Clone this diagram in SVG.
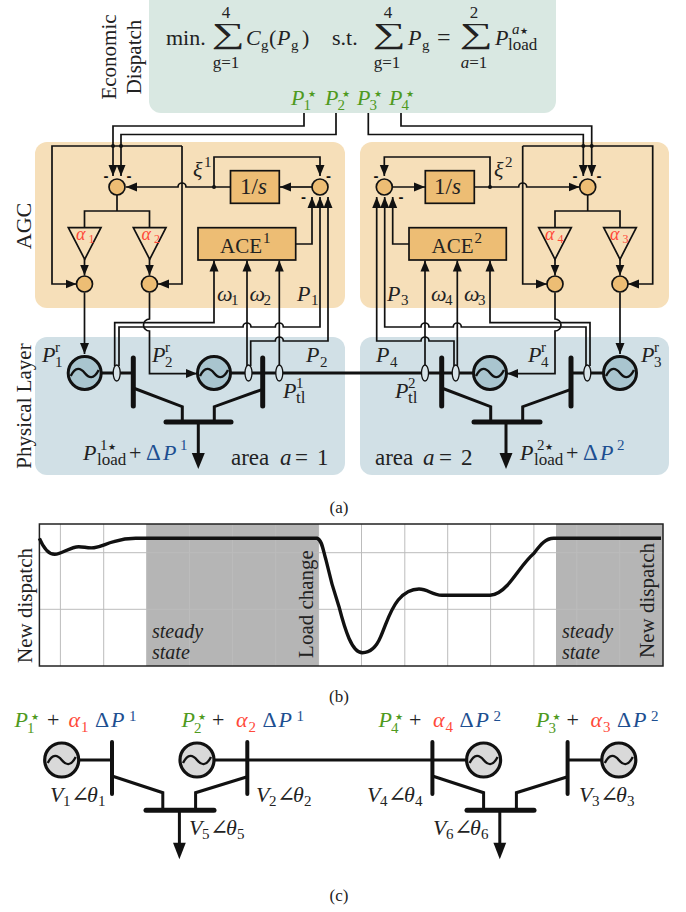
<svg xmlns="http://www.w3.org/2000/svg" width="686" height="912" viewBox="0 0 686 912">
<style>
text{font-family:"Liberation Serif","DejaVu Serif",serif;fill:#222;font-size:22px}
.n{font-size:21px}
.ar{font-size:23px}
.i{font-style:italic}
.s{font-size:15px}
.ld{font-size:17px}
.lim{font-size:17px;text-anchor:middle}
.t{font-size:12px}
.al{font-size:18px}
.st{font-size:9px;font-family:"DejaVu Sans",sans-serif}
.g,.g tspan{fill:#4f9a1e}
.r,.r tspan{fill:#ff4a3a}
.bl,.bl tspan{fill:#1d4f91}
.mn{font-family:"Liberation Sans",sans-serif;font-size:15px;font-weight:bold;text-anchor:middle;fill:#111}
.cap{font-size:17px;text-anchor:middle}
.sg{font-size:29px}
.ctr{text-anchor:middle}
.l{fill:none;stroke:#111;stroke-width:1.7}
.la{fill:none;stroke:#111;stroke-width:1.7;marker-end:url(#a)}
.h{fill:none;stroke:#111;stroke-width:3}
.bus{fill:none;stroke:#111;stroke-width:5;stroke-linecap:round}
.cb{fill:none;stroke:#111;stroke-width:4;stroke-linecap:round}
.sum{fill:#edbd74;stroke:#111;stroke-width:1.7}
.bx{fill:#edbd74;stroke:#111;stroke-width:1.7}
.tri{fill:#f6dfb9;stroke:#111;stroke-width:1.7}
.ov{fill:#d9e5ea;stroke:#111;stroke-width:1.3}
.gen{fill:#a9c5cf;stroke:#111;stroke-width:3}
.gen2{fill:#d9d9d9;stroke:#111;stroke-width:3.2}
.w{fill:none;stroke:#111;stroke-width:2.4}
.grid{stroke:#bcbcbc;stroke-width:1;fill:none}
.dot{fill:#111}
</style>
<defs>
<marker id="a" markerUnits="userSpaceOnUse" markerWidth="12" markerHeight="10" refX="11" refY="5" orient="auto"><path d="M0 0.500L11 5L0 9.500z" fill="#111"/></marker>
<path id="wave" class="w" d="M-14 3C-9 -7 -4 -5 0 0S9 7 14 -3"/>
</defs>

<g id="panels">
<rect x="149" y="-12" width="407" height="125" rx="12" fill="#d9e8e2"/>
<rect x="35" y="142" width="310" height="166" rx="12" fill="#f6dfb9"/>
<rect x="360" y="142" width="309" height="166" rx="12" fill="#f6dfb9"/>
<rect x="35" y="337" width="310" height="138" rx="12" fill="#d1e0e6"/>
<rect x="360" y="337" width="309" height="138" rx="12" fill="#d1e0e6"/>
</g>

<g id="connectors">
<path class="la" d="M304 113V126H113V176"/>
<path class="la" d="M336 113V134.500H121V176"/>
<path class="la" d="M368.300 113V134.500H583.300V176"/>
<path class="la" d="M401 113V126H591.700V176"/>
<path class="la" d="M182 146H52V284H76.500"/>
<path class="la" d="M182 146V284H158"/>
<path class="la" d="M522.700 146H652.700V284H628"/>
<path class="la" d="M522.700 146V284H547"/>
<path class="la" d="M230.500 187H186A4 4 0 0 0 178 187H126"/>
<path class="la" d="M312 187H280"/>
<path class="la" d="M214 187V157H320V176"/>
<path class="la" d="M392.500 187H425"/>
<path class="la" d="M474.500 187H518.700A4 4 0 0 1 526.700 187H579.500"/>
<path class="la" d="M490 187V157H384.300V176"/>
<path class="l" d="M117 195V211M84.500 227.700V211H149.500V227.700"/>
<path class="l" d="M587.700 195V211M555 227.700V211H620V227.700"/>
<path class="la" d="M84.500 259V275.500"/>
<path class="la" d="M149.500 259V275.500"/>
<path class="la" d="M555 259V275.500"/>
<path class="la" d="M620 259V275.500"/>
<path class="la" d="M84.500 292.500V354"/>
<path class="la" d="M149.500 292.500V319A6 6 0 0 0 149.500 331V373.600H197"/>
<path class="la" d="M620 292.500V354"/>
<path class="la" d="M555 292.500V319A6 6 0 0 1 555 331V373.600H507"/>
<path class="la" d="M295.700 244H312V197"/>
<path class="la" d="M409 244H392.700V197"/>
<path class="la" d="M114.700 366V322.700H214V260.500"/>
<path class="la" d="M119 366V327H243A4 4 0 0 1 251 327H275.300A4 4 0 0 1 283.300 327H320V197"/>
<path class="la" d="M247 366V260.500"/>
<path class="la" d="M279.300 366V260.500"/>
<path class="la" d="M250.700 366V341H275.300A4 4 0 0 1 283.300 341H328V197"/>
<path class="la" d="M425 366V260.500"/>
<path class="la" d="M457.300 366V260.500"/>
<path class="la" d="M590 366V322.700H490V260.500"/>
<path class="la" d="M586 366V327H461.300A4 4 0 0 0 453.300 327H429A4 4 0 0 0 421 327H384.700V197"/>
<path class="la" d="M454 366V341H429A4 4 0 0 0 421 341H376.700V197"/>
<path class="h" d="M84.700 373H133.300M214 373H490M571 373H620"/>
<path class="h" d="M133.300 388L182.300 406.700V422M262.700 389.300L214.300 406.700V422"/>
<path class="h" d="M441.700 388L490.700 406.700V422M571 389.300L522.700 406.700V422"/>
<path class="h" d="M198.300 422V455"/>
<path d="M191.800 453H204.800L198.300 469z" fill="#111"/>
<path class="h" d="M506 422V455"/>
<path d="M499.500 453H512.500L506 469z" fill="#111"/>
<path class="h" d="M61.700 760H112M197 760H483.600M567.600 760H618.800"/>
<path class="h" d="M112 776L162.800 792.700V810M247.300 776.700L195.600 792.700V810M432.400 776L483.600 792.700V810M567.600 776.700L516.400 792.700V810"/>
<path class="h" d="M179.400 810V845"/>
<path d="M173 842.700H185.800L179.400 859.300z" fill="#111"/>
<path class="h" d="M499.800 810V845"/>
<path d="M493.400 842.700H506.200L499.800 859.300z" fill="#111"/>
</g>

<g id="dots">
<circle class="dot" cx="113" cy="146" r="2"/><circle class="dot" cx="121" cy="146" r="2"/>
<circle class="dot" cx="214" cy="187" r="2"/><circle class="dot" cx="490" cy="187" r="2"/>
<circle class="dot" cx="583.300" cy="146" r="2"/><circle class="dot" cx="591.700" cy="146" r="2"/>
</g>

<g id="sum1"><circle class="sum" cx="117" cy="187" r="8"/></g>
<g id="sum2"><circle class="sum" cx="320" cy="187" r="8"/></g>
<g id="sum3"><circle class="sum" cx="84.500" cy="284" r="8"/></g>
<g id="sum4"><circle class="sum" cx="149.500" cy="284" r="8"/></g>
<g id="sum5"><circle class="sum" cx="384.300" cy="187" r="8"/></g>
<g id="sum6"><circle class="sum" cx="587.700" cy="187" r="8"/></g>
<g id="sum7"><circle class="sum" cx="555" cy="284" r="8"/></g>
<g id="sum8"><circle class="sum" cx="620" cy="284" r="8"/></g>

<g id="minus">
<text class="mn" x="106" y="181">-</text><text class="mn" x="129" y="181">-</text>
<text class="mn" x="328.500" y="181">-</text><text class="mn" x="303.500" y="202">-</text>
<text class="mn" x="376" y="181">-</text><text class="mn" x="401" y="202">-</text>
<text class="mn" x="575" y="181">-</text><text class="mn" x="599" y="181">-</text>
</g>

<g id="gain1"><path class="tri" d="M68.300 227.700H101L84.700 259.300z"/><text class="r al"><tspan class="i" x="76" y="240">α</tspan><tspan class="t" x="88.500" y="243">1</tspan></text></g>
<g id="gain2"><path class="tri" d="M133.300 227.700H166L149.700 259.300z"/><text class="r al"><tspan class="i" x="141.500" y="240">α</tspan><tspan class="t" x="154" y="243">2</tspan></text></g>
<g id="gain4"><path class="tri" d="M538.700 227.700H571.300L555 259.300z"/><text class="r al"><tspan class="i" x="545" y="240">α</tspan><tspan class="t" x="557.500" y="243">4</tspan></text></g>
<g id="gain3"><path class="tri" d="M603.700 227.700H636.300L620 259.300z"/><text class="r al"><tspan class="i" x="610" y="240">α</tspan><tspan class="t" x="622.500" y="243">3</tspan></text></g>

<g id="int1"><rect class="bx" x="230.500" y="170.700" width="48.800" height="32.600"/><text x="240" y="194" style="font-size:23px">1/<tspan class="i">s</tspan></text></g>
<g id="int2"><rect class="bx" x="425.300" y="170.700" width="49" height="32.600"/><text x="434" y="194" style="font-size:23px">1/<tspan class="i">s</tspan></text></g>
<g id="ace1"><rect class="bx" x="198" y="227.700" width="97.700" height="32.300"/><text x="220" y="253" class="n">ACE<tspan class="s" x="263" y="243">1</tspan></text></g>
<g id="ace2"><rect class="bx" x="409" y="227.700" width="97.300" height="32.300"/><text x="431.500" y="253" class="n">ACE<tspan class="s" x="474.500" y="243">2</tspan></text></g>

<g id="sensors">
<ellipse class="ov" cx="116.700" cy="373" rx="3.500" ry="8"/>
<ellipse class="ov" cx="248.500" cy="373" rx="3.500" ry="8"/>
<ellipse class="ov" cx="279.300" cy="373" rx="3.500" ry="8"/>
<ellipse class="ov" cx="425" cy="373" rx="3.500" ry="8"/>
<ellipse class="ov" cx="455.700" cy="373" rx="3.500" ry="8"/>
<ellipse class="ov" cx="587.300" cy="373" rx="3.500" ry="8"/>
</g>

<g id="gen1"><circle class="gen" cx="84.700" cy="373" r="16.500"/><use href="#wave" x="84.700" y="373"/></g>
<g id="gen2"><circle class="gen" cx="214" cy="373" r="16.500"/><use href="#wave" x="214" y="373"/></g>
<g id="gen4"><circle class="gen" cx="490" cy="373" r="16.500"/><use href="#wave" x="490" y="373"/></g>
<g id="gen3"><circle class="gen" cx="620" cy="373" r="16.500"/><use href="#wave" x="620" y="373"/></g>
<g id="bus1"><path class="bus" d="M133.300 358V406"/></g>
<g id="bus2"><path class="bus" d="M262.700 358V406"/></g>
<g id="bus3"><path class="bus" d="M441.700 358V406"/></g>
<g id="bus4"><path class="bus" d="M571 358V406"/></g>
<g id="bus5"><path class="bus" d="M166 422H231"/></g>
<g id="bus6"><path class="bus" d="M474 422H540"/></g>

<g id="labels-a">
<text class="ctr n" transform="translate(116 57) rotate(-90)">Economic</text>
<text class="ctr n" transform="translate(141 57) rotate(-90)">Dispatch</text>
<text class="ctr" transform="translate(31 226) rotate(-90)">AGC</text>
<text class="ctr n" transform="translate(31 406) rotate(-90)">Physical Layer</text>

<text x="166" y="45">min.</text>
<text class="sg" transform="translate(212 43) scale(1.600 1)">∑</text>
<text class="lim" x="226" y="18">4</text><text class="lim" x="226" y="68">g=1</text>
<text><tspan class="i" x="246" y="45">C</tspan><tspan class="s" x="261" y="50">g</tspan><tspan x="269" y="45">(</tspan><tspan class="i" x="277" y="45">P</tspan><tspan class="s" x="291" y="50">g</tspan><tspan x="302" y="45">)</tspan></text>
<text x="332" y="45">s.t.</text>
<text class="sg" transform="translate(373 43) scale(1.600 1)">∑</text>
<text class="lim" x="388" y="18">4</text><text class="lim" x="387" y="68">g=1</text>
<text><tspan class="i" x="408" y="45">P</tspan><tspan class="s" x="422" y="50">g</tspan><tspan x="437" y="45" style="font-size:24px">=</tspan></text>
<text class="sg" transform="translate(460 43) scale(1.600 1)">∑</text>
<text class="lim" x="474" y="18">2</text><text class="lim" x="474" y="68"><tspan class="i">a</tspan>=1</text>
<text><tspan class="i" x="495" y="45">P</tspan><tspan class="s i" x="512" y="34">a</tspan><tspan class="st" x="520" y="34">★</tspan><tspan class="ld" x="508" y="50">load</tspan></text>

<text class="g"><tspan class="i" x="291" y="105">P</tspan><tspan class="s" x="303.500" y="110">1</tspan><tspan class="st" x="308" y="97">★</tspan></text>
<text class="g"><tspan class="i" x="325" y="105">P</tspan><tspan class="s" x="337.500" y="110">2</tspan><tspan class="st" x="342" y="97">★</tspan></text>
<text class="g"><tspan class="i" x="357" y="105">P</tspan><tspan class="s" x="369.500" y="110">3</tspan><tspan class="st" x="374" y="97">★</tspan></text>
<text class="g"><tspan class="i" x="389" y="105">P</tspan><tspan class="s" x="401.500" y="110">4</tspan><tspan class="st" x="406" y="97">★</tspan></text>

<text><tspan class="i" x="193" y="177">ξ</tspan><tspan class="s" x="204" y="167">1</tspan></text>
<text><tspan class="i" x="494" y="177">ξ</tspan><tspan class="s" x="505" y="167">2</tspan></text>
<text><tspan class="i" x="217" y="301">ω</tspan><tspan class="s" x="231" y="305">1</tspan></text>
<text><tspan class="i" x="249.500" y="301">ω</tspan><tspan class="s" x="263.500" y="305">2</tspan></text>
<text><tspan class="i" x="297" y="301">P</tspan><tspan class="s" x="311" y="305">1</tspan></text>
<text><tspan class="i" x="387" y="301">P</tspan><tspan class="s" x="401" y="305">3</tspan></text>
<text><tspan class="i" x="431" y="301">ω</tspan><tspan class="s" x="445" y="305">4</tspan></text>
<text><tspan class="i" x="464" y="301">ω</tspan><tspan class="s" x="478" y="305">3</tspan></text>

<text><tspan class="i" x="42" y="362">P</tspan><tspan class="s" x="55" y="352">r</tspan><tspan class="s" x="55" y="367">1</tspan></text>
<text><tspan class="i" x="152" y="362">P</tspan><tspan class="s" x="165" y="352">r</tspan><tspan class="s" x="165" y="367">2</tspan></text>
<text><tspan class="i" x="306" y="362">P</tspan><tspan class="s" x="320" y="367">2</tspan></text>
<text><tspan class="i" x="376" y="362">P</tspan><tspan class="s" x="390" y="367">4</tspan></text>
<text><tspan class="i" x="528" y="362">P</tspan><tspan class="s" x="541" y="352">r</tspan><tspan class="s" x="541" y="367">4</tspan></text>
<text><tspan class="i" x="641" y="362">P</tspan><tspan class="s" x="654" y="352">r</tspan><tspan class="s" x="654" y="367">3</tspan></text>
<text><tspan class="i" x="283" y="398">P</tspan><tspan class="s" x="296" y="388">1</tspan><tspan class="ld" x="296" y="403">tl</tspan></text>
<text><tspan class="i" x="395" y="398">P</tspan><tspan class="s" x="408" y="388">2</tspan><tspan class="ld" x="408" y="403">tl</tspan></text>
<text><tspan class="i" x="83" y="460">P</tspan><tspan class="s" x="100" y="450">1</tspan><tspan class="st" x="108" y="450">★</tspan><tspan class="ld" x="97" y="465">load</tspan><tspan x="129" y="460">+</tspan></text>
<text class="bl"><tspan x="146" y="460" style="font-size:23px">Δ</tspan><tspan class="i" x="163" y="460">P</tspan><tspan class="s" x="180" y="450">1</tspan></text>
<text class="ar"><tspan x="231" y="465">area</tspan><tspan class="i" x="280" y="465">a</tspan><tspan x="295" y="465">=</tspan><tspan x="317" y="465">1</tspan></text>
<text><tspan class="i" x="520" y="460">P</tspan><tspan class="s" x="537" y="450">2</tspan><tspan class="st" x="545" y="450">★</tspan><tspan class="ld" x="534" y="465">load</tspan><tspan x="566" y="460">+</tspan></text>
<text class="bl"><tspan x="583" y="460" style="font-size:23px">Δ</tspan><tspan class="i" x="600" y="460">P</tspan><tspan class="s" x="617" y="450">2</tspan></text>
<text class="ar"><tspan x="375" y="465">area</tspan><tspan class="i" x="423" y="465">a</tspan><tspan x="439" y="465">=</tspan><tspan x="461" y="465">2</tspan></text>
<text class="cap" x="339" y="513">(a)</text>
</g>

<g id="plot">
<rect x="147" y="524" width="172" height="142" fill="#b5b5b5"/>
<rect x="556" y="524" width="107" height="142" fill="#b5b5b5"/>
<path class="grid" d="M60.400 524V666M103.700 524V666M146.600 524V666M189.500 524V666M232.400 524V666M275.700 524V666M318.600 524V666M361.500 524V666M404.800 524V666M447.700 524V666M490.600 524V666M533.900 524V666M576.800 524V666M619.700 524V666M39.400 552.700H663M39.400 609.300H663"/>
<rect x="39.400" y="524" width="623.600" height="142" fill="none" stroke="#222" stroke-width="1.500"/>
<path fill="none" stroke="#111" stroke-width="3.400" d="M39.400 538.300C44 549 49 554.300 54.700 554.300C62 554.300 70 546.700 78.800 546.700C84 546.700 88 548.500 94 547.700C102 546.500 106 543.500 113.800 541.700C121 539.500 128 538.300 135.700 538.300H317.300C322 540 323 550 326 560C330 578 334 592 339 606.700C345 630 352 652.700 362.400 652.700C370 652.700 376 648 380.700 636.700C387 622 390 610 398.200 600C405 592 412 589 419 589C428 589 432 595.300 442 595.300H490C497 595 502 591 507.600 585C518 573 524 562 534 553.300C541 544 546 538.300 553.600 538.300H661"/>
<text class="ctr n" transform="translate(32 605.500) rotate(-90)">New dispatch</text>
<text class="ctr n" transform="translate(313 604) rotate(-90)">Load change</text>
<text class="ctr n" transform="translate(654 600.500) rotate(-90)">New dispatch</text>
<text class="i" x="152" y="638" style="font-size:20px">steady</text>
<text class="i" x="152" y="659" style="font-size:20px">state</text>
<text class="i" x="562" y="638" style="font-size:20px">steady</text>
<text class="i" x="562" y="659" style="font-size:20px">state</text>
<text class="cap" x="339" y="702">(b)</text>
</g>

<g id="net-c">
<g id="c-gen1"><circle class="gen2" cx="61.700" cy="760" r="17"/><use href="#wave" x="61.700" y="760"/></g>
<g id="c-gen2"><circle class="gen2" cx="197" cy="760" r="17"/><use href="#wave" x="197" y="760"/></g>
<g id="c-gen4"><circle class="gen2" cx="483.600" cy="760" r="17"/><use href="#wave" x="483.600" y="760"/></g>
<g id="c-gen3"><circle class="gen2" cx="618.800" cy="760" r="17"/><use href="#wave" x="618.800" y="760"/></g>
<g id="c-bus1"><path class="cb" d="M112 742V794"/></g>
<g id="c-bus2"><path class="cb" d="M247.300 742V794"/></g>
<g id="c-bus4"><path class="cb" d="M432.400 742V794"/></g>
<g id="c-bus3"><path class="cb" d="M567.600 742V794"/></g>
<g id="c-bus5"><path class="bus" d="M146 810.300H214"/></g>
<g id="c-bus6"><path class="bus" d="M467 810.300H534"/></g>

<text><tspan class="g i" x="14.500" y="727">P</tspan><tspan class="g s" x="27" y="733">1</tspan><tspan class="g st" x="31" y="720">★</tspan><tspan x="47" y="727">+</tspan><tspan class="r i" x="68.500" y="727">α</tspan><tspan class="r s" x="81" y="732">1</tspan><tspan class="bl" x="95" y="727">Δ</tspan><tspan class="bl i" x="111" y="727">P</tspan><tspan class="bl s" x="129" y="721">1</tspan></text>
<text><tspan class="g i" x="181.500" y="727">P</tspan><tspan class="g s" x="194" y="733">2</tspan><tspan class="g st" x="198" y="720">★</tspan><tspan x="212" y="727">+</tspan><tspan class="r i" x="236" y="727">α</tspan><tspan class="r s" x="248.500" y="732">2</tspan><tspan class="bl" x="262.500" y="727">Δ</tspan><tspan class="bl i" x="278.500" y="727">P</tspan><tspan class="bl s" x="296.500" y="721">1</tspan></text>
<text><tspan class="g i" x="378.500" y="727">P</tspan><tspan class="g s" x="391" y="733">4</tspan><tspan class="g st" x="395" y="720">★</tspan><tspan x="409" y="727">+</tspan><tspan class="r i" x="433" y="727">α</tspan><tspan class="r s" x="445.500" y="732">4</tspan><tspan class="bl" x="459.500" y="727">Δ</tspan><tspan class="bl i" x="475.500" y="727">P</tspan><tspan class="bl s" x="493.500" y="721">2</tspan></text>
<text><tspan class="g i" x="536" y="727">P</tspan><tspan class="g s" x="548.500" y="733">3</tspan><tspan class="g st" x="552.500" y="720">★</tspan><tspan x="566.500" y="727">+</tspan><tspan class="r i" x="590.500" y="727">α</tspan><tspan class="r s" x="603" y="732">3</tspan><tspan class="bl" x="617" y="727">Δ</tspan><tspan class="bl i" x="633" y="727">P</tspan><tspan class="bl s" x="651" y="721">2</tspan></text>

<text><tspan class="i" x="50" y="802">V</tspan><tspan class="s" x="63" y="806">1</tspan><tspan x="71" y="802">∠</tspan><tspan class="i" x="87" y="802">θ</tspan><tspan class="s" x="98" y="806">1</tspan></text>
<text><tspan class="i" x="256" y="802">V</tspan><tspan class="s" x="269" y="806">2</tspan><tspan x="277" y="802">∠</tspan><tspan class="i" x="293" y="802">θ</tspan><tspan class="s" x="304" y="806">2</tspan></text>
<text><tspan class="i" x="367" y="802">V</tspan><tspan class="s" x="380" y="806">4</tspan><tspan x="388" y="802">∠</tspan><tspan class="i" x="404" y="802">θ</tspan><tspan class="s" x="415" y="806">4</tspan></text>
<text><tspan class="i" x="579" y="802">V</tspan><tspan class="s" x="592" y="806">3</tspan><tspan x="600" y="802">∠</tspan><tspan class="i" x="616" y="802">θ</tspan><tspan class="s" x="627" y="806">3</tspan></text>
<text><tspan class="i" x="189" y="835">V</tspan><tspan class="s" x="202" y="839">5</tspan><tspan x="210" y="835">∠</tspan><tspan class="i" x="226" y="835">θ</tspan><tspan class="s" x="237" y="839">5</tspan></text>
<text><tspan class="i" x="433" y="835">V</tspan><tspan class="s" x="446" y="839">6</tspan><tspan x="454" y="835">∠</tspan><tspan class="i" x="470" y="835">θ</tspan><tspan class="s" x="481" y="839">6</tspan></text>
<text class="cap" x="339" y="901">(c)</text>
</g>
</svg>
